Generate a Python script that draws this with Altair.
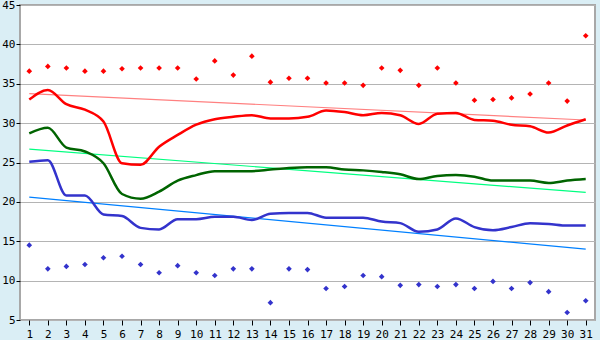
import altair as alt
import pandas as pd

days = list(range(1, 32))
max_pts = [36.6, 37.2, 37.0, 36.6, 36.6, 36.9, 37.0, 37.0, 37.0, 35.6,
           37.9, 36.1, 38.5, 35.2, 35.7, 35.7, 35.1, 35.1, 34.8, 37.0,
           36.7, 34.8, 37.0, 35.1, 32.9, 33.0, 33.2, 33.7, 35.1, 32.8, 41.1]
red_line = [33.0, 34.2, 32.4, 31.7, 30.2, 24.9, 24.7, 27.0, 28.5, 29.8,
            30.5, 30.8, 31.0, 30.6, 30.6, 30.8, 31.6, 31.4, 31.0, 31.3,
            31.0, 29.9, 31.2, 31.3, 30.4, 30.3, 29.8, 29.6, 28.8, 29.7, 30.5]
green_line = [28.7, 29.4, 26.9, 26.4, 24.9, 21.0, 20.4, 21.3, 22.7, 23.4,
              23.9, 23.9, 23.9, 24.1, 24.3, 24.4, 24.4, 24.1, 24.0, 23.8,
              23.5, 22.9, 23.3, 23.4, 23.2, 22.7, 22.7, 22.7, 22.4, 22.7, 22.9]
blue_line = [25.1, 25.3, 20.8, 20.8, 18.4, 18.2, 16.7, 16.5, 17.8, 17.8,
             18.1, 18.1, 17.7, 18.5, 18.6, 18.6, 18.0, 18.0, 18.0, 17.5,
             17.3, 16.2, 16.5, 17.9, 16.8, 16.4, 16.8, 17.3, 17.2, 17.0, 17.0]
min_pts = [14.5, 11.5, 11.8, 12.05, 12.9, 13.1, 12.05, 11.0, 11.9, 11.0,
           10.65, 11.5, 11.5, 7.2, 11.5, 11.4, 9.0, 9.25, 10.65, 10.5,
           9.4, 9.5, 9.25, 9.5, 9.0, 9.9, 9.0, 9.75, 8.6, 5.95, 7.45]

trend_x = [1, 31]
red_trend = [33.75, 30.4]
green_trend = [26.7, 21.2]
blue_trend = [20.6, 14.0]

df = pd.DataFrame({"day": days, "maxp": max_pts, "red": red_line,
                   "green": green_line, "blue": blue_line, "minp": min_pts})
tdf = pd.DataFrame({"day": trend_x, "rt": red_trend, "gt": green_trend, "bt": blue_trend})

xs = alt.Scale(domain=[0.5, 31.5], nice=False, zero=False)
ys = alt.Scale(domain=[5, 45], nice=False, zero=False)

xax = alt.Axis(values=days, grid=False, title=None, labelFont="DejaVu Sans Mono",
               labelFontSize=11, labelColor="#000000", tickColor="#000000",
               tickSize=5, domain=False, labelPadding=3)
yax = alt.Axis(values=list(range(5, 50, 5)), grid=True, gridColor="#B4B4B4",
               title=None, labelFont="DejaVu Sans Mono", labelFontSize=11,
               labelColor="#000000", tickColor="#000000", tickSize=4,
               domain=False, labelPadding=1)

base = alt.Chart(df)

def line(col, color, w):
    return base.mark_line(color=color, strokeWidth=w, interpolate="monotone").encode(
        x=alt.X("day:Q", scale=xs, axis=xax), y=alt.Y(f"{col}:Q", scale=ys, axis=yax))

def tline(col, color):
    return alt.Chart(tdf).mark_line(color=color, strokeWidth=1.2).encode(
        x=alt.X("day:Q", scale=xs, axis=xax), y=alt.Y(f"{col}:Q", scale=ys, axis=yax))

def pts(col, color):
    return base.mark_point(shape="diamond", filled=True, color=color, size=32, opacity=1).encode(
        x=alt.X("day:Q", scale=xs, axis=xax), y=alt.Y(f"{col}:Q", scale=ys, axis=yax))

chart = alt.layer(
    tline("rt", "#FF8080"), tline("gt", "#00FF80"), tline("bt", "#0080FF"),
    line("red", "#FF0000", 2.5), line("green", "#006400", 2.5), line("blue", "#3333CC", 2.5),
    pts("maxp", "#FF0000"), pts("minp", "#3333CC"),
).properties(
    width=575, height=315, background="#DAEEF5",
    padding={"left": 20, "top": 5, "right": 5, "bottom": 20},
    autosize=alt.AutoSizeParams(type="none"),
).configure_view(fill="#FFFFFF", stroke="#A8A8A8", strokeWidth=2)

chart.save("out.html", embed_options={"renderer": "svg", "actions": False})
